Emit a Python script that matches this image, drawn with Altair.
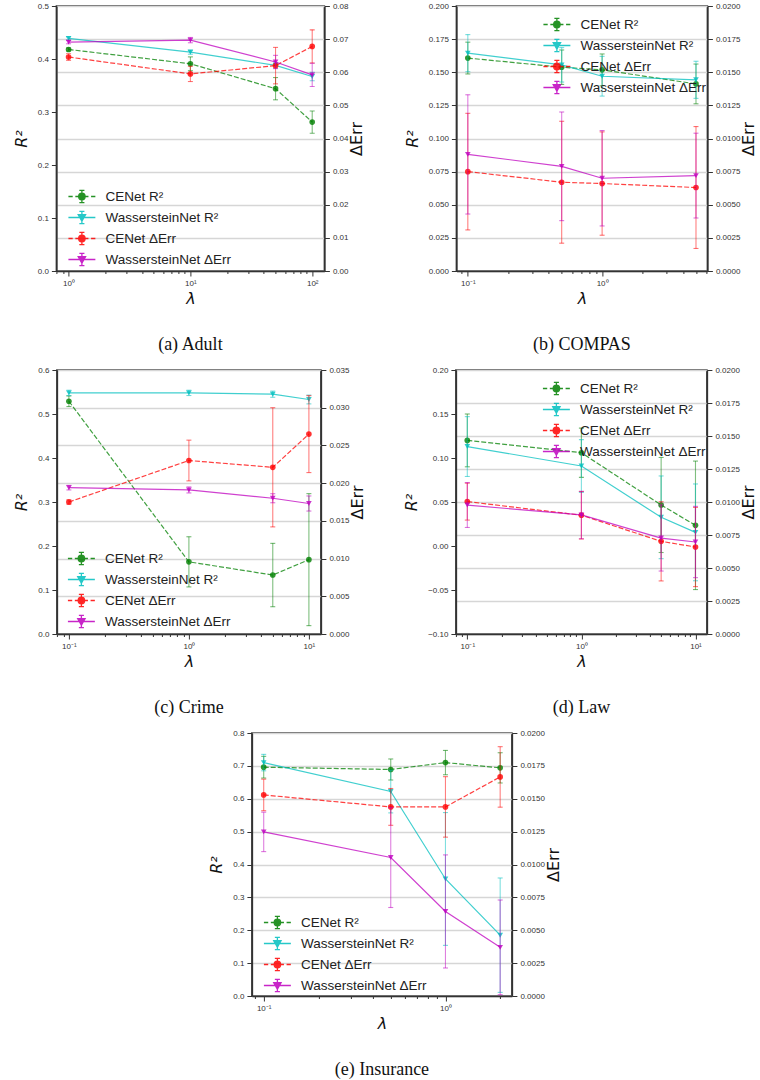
import altair as alt
import pandas as pd

SERIES = ["CENet R²", "WassersteinNet R²", "CENet ΔErr", "WassersteinNet ΔErr"]
COLORS = ["#008000", "#00bfbf", "#ff0000", "#bf00bf"]

# ---------------- data ----------------
adult_lam = [1, 10, 50, 100]
adult_cenet_r2 = [0.418, 0.391, 0.344, 0.281]
adult_cenet_r2_err = [0.003, 0.013, 0.021, 0.021]
adult_wass_r2 = [0.439, 0.413, 0.388, 0.367]
adult_wass_r2_err = [0.003, 0.004, 0.005, 0.008]
adult_cenet_d = [0.0646, 0.0595, 0.0620, 0.0678]
adult_cenet_d_err = [0.0010, 0.0023, 0.0055, 0.0050]
adult_wass_d = [0.0691, 0.0697, 0.0631, 0.0592]
adult_wass_d_err = [0.0005, 0.0008, 0.0020, 0.0035]

compas_lam = [0.1, 0.5, 1, 5]
compas_cenet_r2 = [0.1607, 0.1538, 0.1518, 0.1412]
compas_cenet_r2_err = [0.012, 0.013, 0.012, 0.015]
compas_wass_r2 = [0.1644, 0.1556, 0.1470, 0.1443]
compas_wass_r2_err = [0.014, 0.013, 0.015, 0.014]
compas_cenet_d = [0.0075, 0.0067, 0.0066, 0.0063]
compas_cenet_d_err = [0.0044, 0.0046, 0.0039, 0.0046]
compas_wass_d = [0.0088, 0.0079, 0.0070, 0.0072]
compas_wass_d_err = [0.0045, 0.0041, 0.0036, 0.0032]

crime_lam = [0.1, 1, 5, 10]
crime_cenet_r2 = [0.529, 0.164, 0.134, 0.169]
crime_cenet_r2_err = [0.012, 0.057, 0.072, 0.150]
crime_wass_r2 = [0.548, 0.548, 0.545, 0.533]
crime_wass_r2_err = [0.006, 0.006, 0.007, 0.010]
crime_cenet_d = [0.0175, 0.0230, 0.0221, 0.0265]
crime_cenet_d_err = [0.0003, 0.0027, 0.0079, 0.0051]
crime_wass_d = [0.0194, 0.0191, 0.0180, 0.0173]
crime_wass_d_err = [0.0003, 0.0004, 0.0006, 0.0010]

law_lam = [0.1, 1, 5, 10]
law_cenet_r2 = [0.120, 0.106, 0.0466, 0.0235]
law_cenet_r2_err = [0.030, 0.028, 0.054, 0.073]
law_wass_r2 = [0.113, 0.0909, 0.0326, 0.0155]
law_wass_r2_err = [0.034, 0.030, 0.047, 0.055]
law_cenet_d = [0.01003, 0.0090, 0.00702, 0.00659]
law_cenet_d_err = [0.0014, 0.0018, 0.0030, 0.0030]
law_wass_d = [0.00977, 0.00902, 0.00727, 0.00697]
law_wass_d_err = [0.0017, 0.0018, 0.0025, 0.0027]

ins_lam = [0.1, 0.5, 1, 2]
ins_cenet_r2 = [0.696, 0.689, 0.710, 0.694]
ins_cenet_r2_err = [0.033, 0.032, 0.037, 0.046]
ins_wass_r2 = [0.710, 0.622, 0.356, 0.185]
ins_wass_r2_err = [0.025, 0.065, 0.202, 0.174]
ins_cenet_d = [0.01529, 0.01438, 0.01438, 0.01666]
ins_cenet_d_err = [0.0012, 0.0014, 0.0023, 0.0023]
ins_wass_d = [0.01248, 0.01053, 0.00643, 0.0037]
ins_wass_d_err = [0.0015, 0.0038, 0.0043, 0.0036]

# axis tick values
r2_ticks_a = [0.0, 0.1, 0.2, 0.3, 0.4, 0.5]
d_ticks_a = [0.0, 0.01, 0.02, 0.03, 0.04, 0.05, 0.06, 0.07, 0.08]
r2_ticks_b = [0.0, 0.025, 0.05, 0.075, 0.1, 0.125, 0.15, 0.175, 0.2]
d_ticks_b = [0.0, 0.0025, 0.005, 0.0075, 0.01, 0.0125, 0.015, 0.0175, 0.02]
r2_ticks_c = [0.0, 0.1, 0.2, 0.3, 0.4, 0.5, 0.6]
d_ticks_c = [0.0, 0.005, 0.01, 0.015, 0.02, 0.025, 0.03, 0.035]
r2_ticks_d = [-0.1, -0.05, 0.0, 0.05, 0.1, 0.15, 0.2]
d_ticks_d = d_ticks_b
r2_ticks_e = [0.0, 0.1, 0.2, 0.3, 0.4, 0.5, 0.6, 0.7, 0.8]
d_ticks_e = d_ticks_b

MINOR = [m * d for d in [0.01, 0.1, 1, 10, 100] for m in range(1, 10)]

# legend glyphs (errorbar-like), unit box = symbolSize
P_CENET = ("M-1.54,0H-1.05M-0.75,0H-0.2M0.2,0H0.75M1.05,0H1.54"
           "M0,-0.69V0.69M-0.29,-0.69H0.29M-0.29,0.69H0.29"
           "M0.37,0A0.37,0.37 0 1,1 -0.37,0A0.37,0.37 0 1,1 0.37,0Z")
P_WASS = ("M-1.54,0H1.54M0,-0.69V0.69M-0.29,-0.69H0.29M-0.29,0.69H0.29"
          "M-0.42,-0.32L0.42,-0.32L0,0.42Z")
PATHS = [P_CENET, P_WASS, P_CENET, P_WASS]

AX_FONT = "Liberation Sans"
TITLE_FONT = "DejaVu Sans"
LEG_FS = 13.5


def frame(lam, m, e):
    return pd.DataFrame({
        "lam": lam,
        "m": m,
        "lo": [a - b for a, b in zip(m, e)],
        "hi": [a + b for a, b in zip(m, e)],
    })


def x_axis():
    expr = ("datum.value == 0.1 ? '10⁻¹' : datum.value == 1 ? '10⁰' : "
            "datum.value == 10 ? '10¹' : datum.value == 100 ? '10²' : ''")
    test = "datum.value == 0.1 || datum.value == 1 || datum.value == 10 || datum.value == 100"
    return alt.Axis(values=MINOR, labelExpr=expr, labelOverlap=False, labelFlush=False,
                    grid=False,
                    tickSize={"condition": {"test": test, "value": 5}, "value": 2.5},
                    title="λ", titleFontStyle="italic", titlePadding=3)


def group(series_list, xscale, yscale, yaxis, ytitle, legend_layer=None):
    layers = []
    x = alt.X("lam:Q", scale=xscale, axis=x_axis(), title="λ")
    for df, color, dashed, shape in series_list:
        base = alt.Chart(df)
        yy = alt.Y("m:Q", scale=yscale, axis=yaxis, title=ytitle)
        ylo = alt.Y("lo:Q", scale=yscale, axis=yaxis, title=ytitle)
        yhi = alt.Y("hi:Q", scale=yscale, axis=yaxis, title=ytitle)
        lk = dict(color=color, strokeWidth=1.2, opacity=0.75)
        if dashed:
            lk["strokeDash"] = [5, 2]
        layers.append(base.mark_line(**lk).encode(x=x, y=yy))
        layers.append(base.mark_rule(color=color, strokeWidth=1.1, opacity=0.5)
                      .encode(x=x, y=ylo, y2="hi:Q"))
        layers.append(base.mark_tick(orient="horizontal", color=color, size=5,
                                     thickness=1.1, opacity=0.55).encode(x=x, y=ylo))
        layers.append(base.mark_tick(orient="horizontal", color=color, size=5,
                                     thickness=1.1, opacity=0.55).encode(x=x, y=yhi))
        layers.append(base.mark_point(shape=shape, filled=True, color=color, size=32,
                                      opacity=0.8).encode(x=x, y=yy))
    if legend_layer is not None:
        layers.append(legend_layer)
    return alt.layer(*layers)


def panel(lam, c_r2, c_r2e, w_r2, w_r2e, c_d, c_de, w_d, w_de,
          xdom, r2dom, r2ticks, r2fmt, ddom, dticks, dfmt,
          width, height, lx, ly, caption):
    xscale = alt.Scale(type="log", domain=xdom, nice=False)
    yl = alt.Scale(domain=r2dom, nice=False, zero=False)
    yr = alt.Scale(domain=ddom, nice=False, zero=False)
    ax_l = alt.Axis(values=r2ticks, format=r2fmt, orient="left", grid=False,
                    labelOverlap=False, labelFlush=False, titleFontStyle="italic",
                    titlePadding=8)
    ax_r = alt.Axis(values=dticks, format=dfmt, orient="right", grid=True,
                    labelOverlap=False, labelFlush=False, titleFontStyle="normal",
                    titleAngle=270, titleBaseline="top", titlePadding=1)
    leg = alt.Legend(title=None, orient="none", legendX=lx, legendY=ly,
                     symbolSize=306, labelFont=AX_FONT, labelFontSize=LEG_FS,
                     labelColor="#222", labelOffset=14, rowPadding=2,
                     symbolStrokeWidth=1.3, symbolOpacity=0.85, labelLimit=400)
    leg_df = pd.DataFrame({"series": SERIES})
    legend_layer = alt.Chart(leg_df).mark_point(size=0, strokeWidth=1.3).encode(
        fill=alt.Fill("series:N", scale=alt.Scale(domain=SERIES, range=COLORS), legend=leg),
        stroke=alt.Stroke("series:N", scale=alt.Scale(domain=SERIES, range=COLORS), legend=leg),
        shape=alt.Shape("series:N", scale=alt.Scale(domain=SERIES, range=PATHS), legend=leg),
    )
    g1 = group([(frame(lam, c_r2, c_r2e), COLORS[0], True, "circle"),
                (frame(lam, w_r2, w_r2e), COLORS[1], False, "triangle-down")],
               xscale, yl, ax_l, "R²", legend_layer)
    g2 = group([(frame(lam, c_d, c_de), COLORS[2], True, "circle"),
                (frame(lam, w_d, w_de), COLORS[3], False, "triangle-down")],
               xscale, yr, ax_r, "ΔErr")
    return alt.layer(g1, g2).resolve_scale(y="independent").properties(
        width=width, height=height,
        title=alt.TitleParams(caption, orient="bottom", font="Liberation Serif",
                              fontSize=18, fontWeight="normal", color="#111", offset=30),
    )


pa = panel(adult_lam, adult_cenet_r2, adult_cenet_r2_err, adult_wass_r2, adult_wass_r2_err,
           adult_cenet_d, adult_cenet_d_err, adult_wass_d, adult_wass_d_err,
           [0.7943, 125.89], [0, 0.5], r2_ticks_a, ".1f", [0, 0.08], d_ticks_a, ".2f",
           268, 265, 16, 181, "(a) Adult")
pb = panel(compas_lam, compas_cenet_r2, compas_cenet_r2_err, compas_wass_r2, compas_wass_r2_err,
           compas_cenet_d, compas_cenet_d_err, compas_wass_d, compas_wass_d_err,
           [0.0822, 6.08], [0, 0.2], r2_ticks_b, ".3f", [0, 0.02], d_ticks_b, ".4f",
           251, 265, 91, 9, "(b) COMPAS")
pc = panel(crime_lam, crime_cenet_r2, crime_cenet_r2_err, crime_wass_r2, crime_wass_r2_err,
           crime_cenet_d, crime_cenet_d_err, crime_wass_d, crime_wass_d_err,
           [0.07943, 12.589], [0, 0.6], r2_ticks_c, ".1f", [0, 0.035], d_ticks_c, ".3f",
           264, 264, 15, 179, "(c) Crime")
pd_ = panel(law_lam, law_cenet_r2, law_cenet_r2_err, law_wass_r2, law_wass_r2_err,
            law_cenet_d, law_cenet_d_err, law_wass_d, law_wass_d_err,
            [0.07943, 12.589], [-0.1, 0.2], r2_ticks_d, ".2f", [0, 0.02], d_ticks_d, ".4f",
            251, 264, 91, 9, "(d) Law")
pe = panel(ins_lam, ins_cenet_r2, ins_cenet_r2_err, ins_wass_r2, ins_wass_r2_err,
           ins_cenet_d, ins_cenet_d_err, ins_wass_d, ins_wass_d_err,
           [0.0861, 2.32], [0, 0.8], r2_ticks_e, ".1f", [0, 0.02], d_ticks_e, ".4f",
           260, 263, 16, 180, "(e) Insurance")

IND = dict(x="independent", y="independent", fill="independent",
           stroke="independent", shape="independent")

row1 = alt.hconcat(pa, pb, spacing=37).resolve_scale(**IND)
row2 = alt.hconcat(pc, pd_, spacing=36).resolve_scale(**IND)

chart = alt.vconcat(row1, row2, pe, spacing=10, center=True).resolve_scale(
    **IND
).properties(
    padding={"left": 12, "top": 1, "right": 0, "bottom": 2},
    background="white",
).configure_view(
    stroke="#333", strokeWidth=1.5
).configure_axis(
    labelFont=AX_FONT, labelFontSize=8, labelColor="#333", tickColor="#333",
    domainColor="#333", domainWidth=1.5, tickWidth=1, tickSize=5, labelPadding=3,
    titleFont=TITLE_FONT, titleFontSize=16, titleFontWeight="normal", titleColor="#111",
    gridColor="#d6d6d6", gridWidth=1.5,
).configure_legend(
    labelFont=AX_FONT, labelFontSize=LEG_FS, labelColor="#222",
)

chart.save("out.html", embed_options={"renderer": "svg", "actions": False})
